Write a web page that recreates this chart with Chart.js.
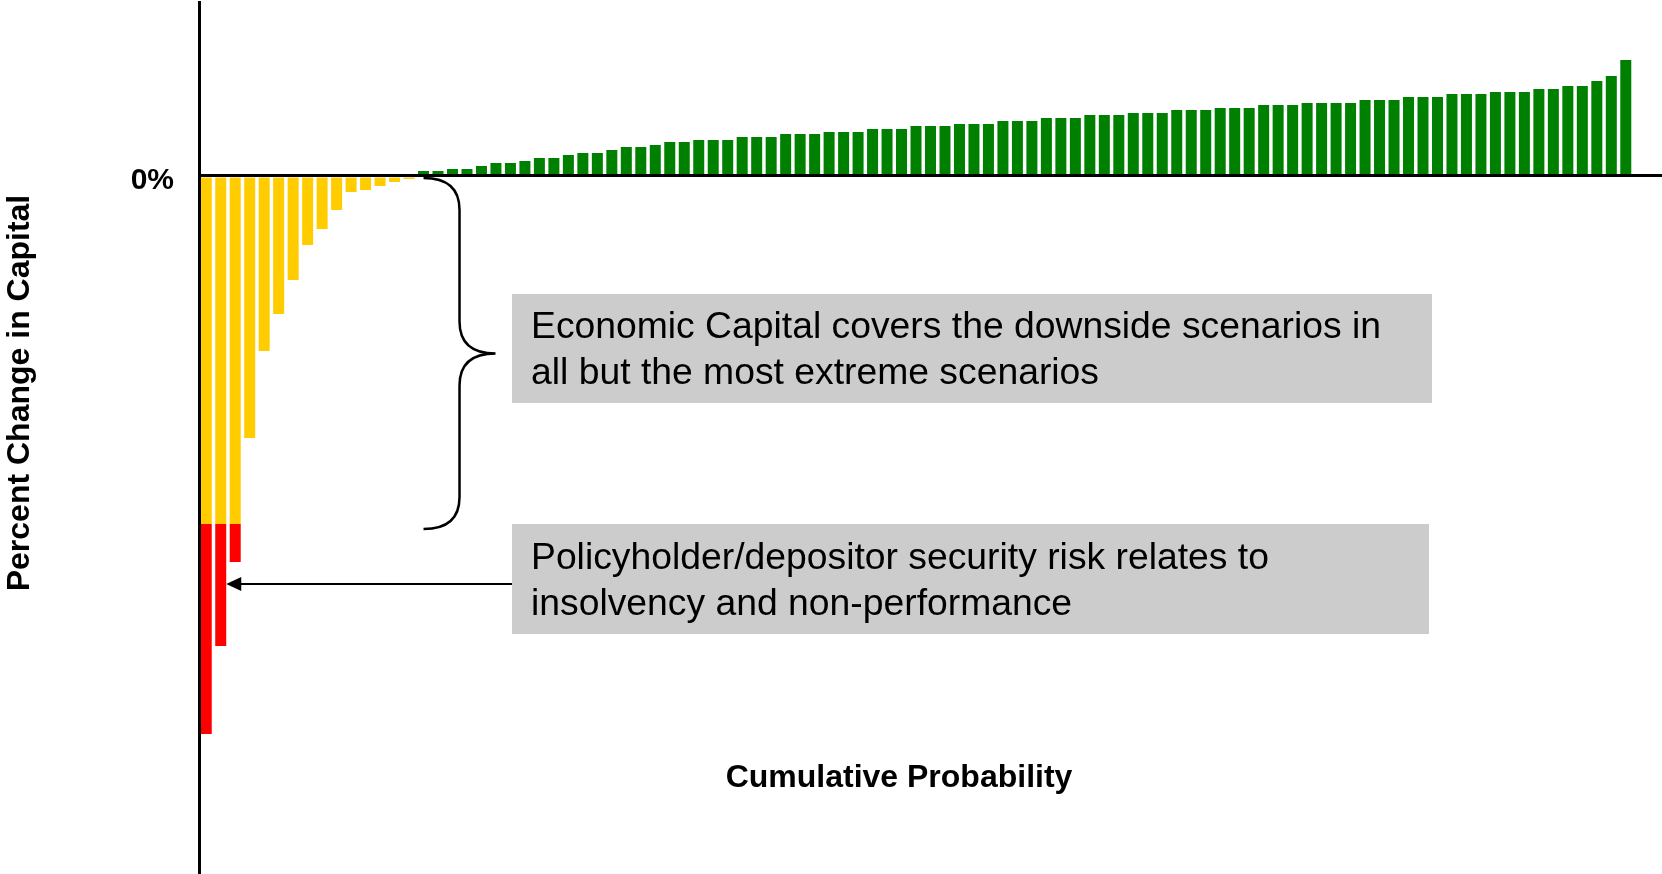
<!DOCTYPE html>
<html>
<head>
<meta charset="utf-8">
<title>Economic Capital and Policyholder Security</title>
<script src="https://cdn.jsdelivr.net/npm/chart.js@4.4.1/dist/chart.umd.min.js"></script>
<style>
  html, body { margin: 0; padding: 0; background: #fff; }
  canvas { display: block; }
</style>
</head>
<body>
<canvas id="capitalChart" width="1662" height="874"></canvas>
<script>
// ── Data ──
// scenario outcomes sorted worst -> best (percent change in capital)
const lossScenarios = [-55.8, -47.0, -38.6, -26.2, -17.5, -13.8, -10.4, -6.9, -5.3, -3.4, -1.6, -1.4, -1.0, -0.6, -0.3];
const gainScenarios = [
  0.5, 0.5, 0.7, 0.7, 1.0, 1.3, 1.3, 1.5, 1.8, 1.8, 2.1, 2.3, 2.3, 2.6, 2.9, 2.9, 3.1,
  3.4, 3.4, 3.6, 3.6, 3.6, 3.9, 3.9, 3.9, 4.2, 4.2, 4.2, 4.4, 4.4, 4.4, 4.7, 4.7, 4.7,
  5.0, 5.0, 5.0, 5.2, 5.2, 5.2, 5.5, 5.5, 5.5, 5.8, 5.8, 5.8, 6.1, 6.1, 6.1, 6.3, 6.3,
  6.3, 6.6, 6.6, 6.6, 6.8, 6.8, 6.8, 7.1, 7.1, 7.1, 7.3, 7.3, 7.3, 7.3, 7.6, 7.6,
  7.6, 7.9, 7.9, 7.9, 8.2, 8.2, 8.2, 8.4, 8.4, 8.4, 8.7, 8.7, 9.0, 9.0, 9.5, 10.0, 11.6
];
const economicCapital = -34.8;   // losses below this level are not covered
const axisMin = -69.8;
const axisMax = 17.4;
const yTicks = [0];

const outcomes = lossScenarios.concat(gainScenarios);
// two empty slots at the end so the zero line runs past the last bar
const scenarioLabels = outcomes.map((_, i) => String(i + 1)).concat(['', '']);

const covered = outcomes.map(v => v < 0 ? Math.max(v, economicCapital) : null);
const uncovered = outcomes.map(v => v < economicCapital ? v - economicCapital : null);
const gains = outcomes.map(v => v > 0 ? v : null);

const FONT = "'Liberation Sans', Arial, Helvetica, sans-serif";

// ── Annotations (brace, arrow, callout boxes, axis titles) ──
const annotations = {
  id: 'annotations',
  afterDraw(chart) {
    const { ctx, scales: { x, y } } = chart;
    ctx.save();

    // callout boxes
    ctx.fillStyle = '#cccccc';
    ctx.fillRect(512, 294, 920, 109);
    ctx.fillRect(512, 524, 917, 110);

    ctx.fillStyle = '#000';
    ctx.font = '37.3px ' + FONT;
    ctx.textAlign = 'left';
    ctx.textBaseline = 'alphabetic';
    ctx.fillText('Economic Capital covers the downside scenarios in', 531, 338);
    ctx.fillText('all but the most extreme scenarios', 531, 384);
    ctx.fillText('Policyholder/depositor security risk relates to', 531, 569);
    ctx.fillText('insolvency and non-performance', 531, 615);

    // brace spanning 0 .. economic capital
    const top = y.getPixelForValue(0) + 2;
    const bot = y.getPixelForValue(economicCapital) + 5;
    const mid = (top + bot) / 2;
    const bx = x.getPixelForValue(lossScenarios.length);
    const stem = bx + 36;
    const tip = bx + 72;
    ctx.strokeStyle = '#000';
    ctx.lineWidth = 2.5;
    ctx.beginPath();
    ctx.moveTo(bx, top);
    ctx.quadraticCurveTo(stem, top, stem, top + 32);
    ctx.lineTo(stem, mid - 32);
    ctx.quadraticCurveTo(stem, mid, tip, mid);
    ctx.quadraticCurveTo(stem, mid, stem, mid + 32);
    ctx.lineTo(stem, bot - 32);
    ctx.quadraticCurveTo(stem, bot, bx, bot);
    ctx.stroke();

    // arrow from the lower box to the uncovered bars
    const bar = chart.getDatasetMeta(1).data[1];
    const ax = bar.x + bar.width / 2;
    const ay = y.getPixelForValue(-40.8);
    ctx.lineWidth = 2;
    ctx.beginPath();
    ctx.moveTo(512, ay);
    ctx.lineTo(ax + 12, ay);
    ctx.stroke();
    ctx.beginPath();
    ctx.moveTo(ax, ay);
    ctx.lineTo(ax + 15, ay - 7);
    ctx.lineTo(ax + 15, ay + 7);
    ctx.closePath();
    ctx.fill();

    // axis titles
    ctx.font = 'bold 32px ' + FONT;
    ctx.textAlign = 'center';
    ctx.textBaseline = 'alphabetic';
    ctx.fillText('Cumulative Probability', 899, 787);

    ctx.translate(20, 393);
    ctx.rotate(-Math.PI / 2);
    ctx.textBaseline = 'middle';
    ctx.fillText('Percent Change in Capital', 0, 0);

    ctx.restore();
  }
};

// ── Chart ──
new Chart(document.getElementById('capitalChart'), {
  type: 'bar',
  data: {
    labels: scenarioLabels,
    datasets: [
      { label: 'Covered by economic capital', data: covered, backgroundColor: '#ffcc00' },
      { label: 'Insolvency', data: uncovered, backgroundColor: '#ff0000' },
      { label: 'Gain', data: gains, backgroundColor: '#008000' }
    ]
  },
  options: {
    responsive: false,
    animation: false,
    devicePixelRatio: 1,
    layout: { padding: { top: 2, left: 0, right: 0, bottom: 0 } },
    datasets: { bar: { categoryPercentage: 1, barPercentage: 0.76 } },
    plugins: {
      legend: { display: false },
      tooltip: { enabled: false }
    },
    scales: {
      x: { stacked: true, display: false },
      y: {
        stacked: true,
        min: axisMin,
        max: axisMax,
        afterFit: s => {
          s.width = 199;
          s.paddingTop = 0;
          s.paddingBottom = 0;
        },
        afterBuildTicks: s => { s.ticks = yTicks.map(v => ({ value: v })); },
        grid: { drawTicks: false, color: '#000', lineWidth: 3, z: 1 },
        border: { color: '#000', width: 3, z: 1 },
        ticks: {
          padding: 25,
          labelOffset: 5,
          color: '#000',
          font: { family: FONT, size: 30, weight: 'bold' },
          callback: v => v + '%'
        }
      }
    }
  },
  plugins: [annotations]
});
</script>
</body>
</html>
